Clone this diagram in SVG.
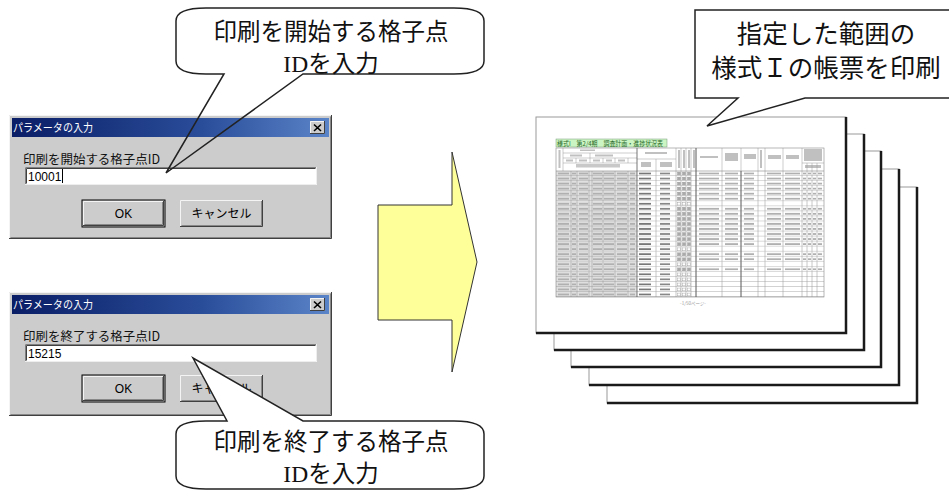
<svg xmlns="http://www.w3.org/2000/svg" width="949" height="490" viewBox="0 0 949 490">
<style>
.jp{font-family:"Noto Sans CJK JP","Noto Sans",sans-serif}
.ser{font-family:"Liberation Serif","Noto Sans CJK JP",serif}
.ui{font-family:"Noto Sans CJK JP","Liberation Sans",sans-serif}
.lat{font-family:"Liberation Sans",Arial,sans-serif}
.call{fill:#fff;stroke:#222;stroke-width:1.5;stroke-linejoin:miter}
.ctext{font-size:23.5px;fill:#111;text-anchor:middle}
.page{fill:#fff;stroke:#9a9a9a;stroke-width:1}
.pedge{fill:none;stroke:#1a1a1a;stroke-width:2.5}
.dlg{fill:#cccccc}
.hi{stroke:#f4f4f4;stroke-width:1;fill:none}
.sh{stroke:#404040;stroke-width:1;fill:none}
.sh2{stroke:#888;stroke-width:1;fill:none}
.gl{stroke:#999;stroke-width:0.5;fill:none}
</style>
<defs>
<linearGradient id="tb" x1="0" y1="0" x2="1" y2="0">
<stop offset="0" stop-color="#0a1e66"/>
<stop offset="0.6" stop-color="#2a4d9a"/>
<stop offset="1" stop-color="#5a84c8"/>
</linearGradient>
<pattern id="rowB" patternUnits="userSpaceOnUse" x="556" y="171" width="268" height="5.04">
<rect width="81" height="5.04" fill="#e0e0e0"/>
<g fill="#b0b0b0">
<rect x="2" y="1.6" width="11" height="1.8"/><rect x="16" y="1.6" width="4" height="1.8"/><rect x="23" y="1.6" width="9" height="1.8"/><rect x="37" y="1.6" width="9" height="1.8"/><rect x="48" y="1.6" width="10" height="1.8"/><rect x="61" y="1.6" width="10" height="1.8"/><rect x="74" y="1.6" width="5" height="1.8"/>
</g>
<rect x="83" y="1.6" width="12" height="1.8" fill="#777"/>
<rect x="104" y="1.6" width="10" height="1.8" fill="#888"/>
<g fill="none" stroke="#999" stroke-width="0.4"><rect x="121.5" y="1" width="3" height="3"/><rect x="126.5" y="1" width="3" height="3"/><rect x="131.5" y="1" width="3" height="3"/></g>
<path class="gl" d="M0 4.8H268M15 0V5.04M21 0V5.04M33 0V5.04M36 0V5.04M47 0V5.04M59 0V5.04M72 0V5.04M100 0V5.04M120 0V5.04M125 0V5.04M130 0V5.04M135 0V5.04M140 0V5.04M166 0V5.04M185 0V5.04M202 0V5.04M209 0V5.04M227 0V5.04M246 0V5.04M251 0V5.04M256 0V5.04M261 0V5.04"/>
</pattern>
<pattern id="rowA" patternUnits="userSpaceOnUse" x="556" y="171" width="268" height="5.04">
<rect width="81" height="5.04" fill="#e0e0e0"/>
<g fill="#b0b0b0">
<rect x="2" y="1.6" width="11" height="1.8"/><rect x="16" y="1.6" width="4" height="1.8"/><rect x="23" y="1.6" width="9" height="1.8"/><rect x="37" y="1.6" width="9" height="1.8"/><rect x="48" y="1.6" width="10" height="1.8"/><rect x="61" y="1.6" width="10" height="1.8"/><rect x="74" y="1.6" width="5" height="1.8"/>
<rect x="143" y="1.6" width="20" height="1.8"/><rect x="169" y="1.6" width="13" height="1.8"/><rect x="188" y="1.6" width="10" height="1.8"/><rect x="211" y="1.6" width="14" height="1.8"/><rect x="229" y="1.6" width="15" height="1.8"/><rect x="247" y="1.6" width="3" height="1.8"/><rect x="252" y="1.6" width="3" height="1.8"/><rect x="257" y="1.6" width="3" height="1.8"/><rect x="262" y="1.6" width="4" height="1.8"/>
</g>
<rect x="83" y="1.6" width="12" height="1.8" fill="#777"/>
<rect x="104" y="1.6" width="10" height="1.8" fill="#888"/>
<g fill="#aaa" stroke="#999" stroke-width="0.4"><rect x="121.5" y="1" width="3" height="3"/><rect x="126.5" y="1" width="3" height="3"/><rect x="131.5" y="1" width="3" height="3"/></g>
<path class="gl" d="M0 4.8H268M15 0V5.04M21 0V5.04M33 0V5.04M36 0V5.04M47 0V5.04M59 0V5.04M72 0V5.04M100 0V5.04M120 0V5.04M125 0V5.04M130 0V5.04M135 0V5.04M140 0V5.04M166 0V5.04M185 0V5.04M202 0V5.04M209 0V5.04M227 0V5.04M246 0V5.04M251 0V5.04M256 0V5.04M261 0V5.04"/>
</pattern>
</defs>
<rect width="949" height="490" fill="#fff"/>

<!-- Page stack -->
<g id="page5"><rect class="page" x="607" y="187" width="310" height="216"/><path class="pedge" d="M917 187V403H607"/></g>
<g id="page4"><rect class="page" x="589" y="169" width="310" height="216"/><path class="pedge" d="M899 169V385H589"/></g>
<g id="page3"><rect class="page" x="571" y="151" width="310" height="216"/><path class="pedge" d="M881 151V367H571"/></g>
<g id="page2"><rect class="page" x="554" y="134" width="310" height="216"/><path class="pedge" d="M864 134V350H554"/></g>
<g id="page1">
<rect class="page" x="536" y="117" width="310" height="216"/><path class="pedge" d="M846 117V333H536"/>
<rect x="556" y="139" width="111" height="8" fill="#ccf5c4" stroke="#7a9a7a" stroke-width="0.5"/>
<text class="jp" x="557" y="145.6" font-size="6.5" fill="#2a6a2a" textLength="106" lengthAdjust="spacingAndGlyphs">様式I　第2/4期　調査計画・進捗状況表</text>
<rect x="556" y="148" width="268" height="23" fill="#fff"/>
<g fill="#c0c0c0">
<rect x="558.5" y="150" width="2" height="18"/><rect x="580" y="149.5" width="15" height="1.5"/><rect x="570" y="154.5" width="12" height="2"/><rect x="595" y="154.5" width="18" height="2"/>
<rect x="566" y="159.5" width="7" height="2"/><rect x="579" y="159.5" width="8" height="2"/><rect x="593" y="159.5" width="7" height="2"/><rect x="606" y="159.5" width="6" height="2"/><rect x="618" y="159.5" width="7" height="2"/>
<rect x="645" y="152" width="22" height="2"/><rect x="641" y="162" width="10" height="5"/><rect x="660" y="162" width="12" height="5"/>
<rect x="678" y="150" width="2" height="18"/><rect x="683" y="150" width="2" height="18"/><rect x="688" y="150" width="2" height="18"/><rect x="693" y="150" width="2" height="18"/>
<rect x="700" y="156" width="18" height="2"/><rect x="725" y="153" width="13" height="8"/><rect x="744" y="154" width="12" height="5"/><rect x="760" y="150" width="2" height="18"/><rect x="768" y="155" width="13" height="4"/><rect x="786" y="155" width="13" height="4"/><rect x="804" y="149" width="18" height="12"/><rect x="805" y="165" width="16" height="3"/>
</g>
<rect x="576" y="164" width="44" height="3.5" fill="#c8c8c8"/>
<path class="gl" d="M563 148V171M563 153H637M563 158H637M563 163H637M590 153V158M576 158V163M590 158V163M603 158V163M615 158V163M628 158V163M637 159H676M656 159V171M676 148V171M681 148V171M686 148V171M691 148V171M696 148V171M722 148V171M741 148V171M758 148V171M765 148V171M783 148V171M802 148V171M802 163H824M807 163V171M812 163V171M817 163V171"/>
<rect x="556" y="171" width="268" height="30.24" fill="url(#rowA)"/>
<rect x="556" y="201.24" width="268" height="5.04" fill="url(#rowB)"/>
<rect x="556" y="206.28" width="268" height="40.32" fill="url(#rowA)"/>
<rect x="556" y="246.6" width="268" height="5.04" fill="url(#rowB)"/>
<rect x="556" y="251.64" width="268" height="10.08" fill="url(#rowA)"/>
<rect x="556" y="261.72" width="268" height="5.04" fill="url(#rowB)"/>
<rect x="556" y="266.76" width="268" height="5.04" fill="url(#rowA)"/>
<rect x="556" y="271.8" width="268" height="25.2" fill="url(#rowB)"/>
<rect x="556" y="148" width="268" height="149" fill="none" stroke="#888" stroke-width="0.6"/>
<path d="M556 171H824" stroke="#888" stroke-width="0.6"/>
<path d="M637 148V297M696 148V297M741 171V297" stroke="#555" stroke-width="0.8"/>
<text class="jp" x="693" y="305" font-size="4.5" fill="#999" text-anchor="middle">-1/50ページ-</text>
</g>

<!-- Big arrow -->
<g id="arrow">
<polygon points="378,205 452,205 452,152 477,262 452,372 452,320 378,320" fill="#ffff99" stroke="#333" stroke-width="1"/>
</g>

<!-- Dialog 1 -->
<g id="dialog1">
<rect class="dlg" x="9" y="115" width="323" height="124"/>
<path class="hi" d="M9.5 238V115.5H331"/>
<path class="sh" d="M9 238.5H331.5V115"/>
<path class="sh2" d="M10.5 237.5H330.5V116.5"/>
<rect x="12" y="118" width="317" height="19" fill="url(#tb)"/>
<text class="ui" x="13" y="132" font-size="11.5" fill="#fff" textLength="80" lengthAdjust="spacingAndGlyphs">パラメータの入力</text>
<rect x="310" y="121" width="15" height="13" fill="#ccc"/>
<path class="hi" d="M310.5 133.5V121.5H324.5"/><path class="sh" d="M310 133.5H324.5V121"/>
<path d="M314 124.5L321 131M321 124.5L314 131" stroke="#000" stroke-width="1.6"/>
<text class="ui" x="23" y="164" font-size="12.5" fill="#111" textLength="137" lengthAdjust="spacingAndGlyphs">印刷を開始する格子点ID</text>
<rect x="25" y="167" width="292" height="18" fill="#fff"/>
<path d="M25.5 184.5V167.5H316.5" stroke="#808080" fill="none"/><path d="M26.5 183.5V168.5H315.5" stroke="#404040" fill="none"/>
<path d="M25 184.5H316.5V167" stroke="#eee" fill="none"/>
<text class="lat" x="28" y="181" font-size="12" fill="#000">10001</text>
<path d="M62.5 169V183" stroke="#000" stroke-width="1"/>
<rect x="82" y="200" width="83" height="27" fill="#ccc" stroke="#000" stroke-width="1"/>
<path class="hi" d="M83.5 225.5V201.5H163.5"/><path class="sh" d="M83 225.5H163.5V201"/><path class="sh2" d="M84.5 224.5H162.5V202"/>
<text class="lat" x="123.5" y="218" font-size="12" fill="#000" text-anchor="middle">OK</text>
<rect x="180" y="200" width="83" height="27" fill="#ccc"/>
<path class="hi" d="M180.5 226V200.5H262"/><path class="sh" d="M180 226.5H262.5V200"/><path class="sh2" d="M181.5 225.5H261.5V201"/>
<text class="ui" x="221.5" y="218" font-size="12" fill="#000" text-anchor="middle">キャンセル</text>
</g>

<!-- Dialog 2 -->
<g id="dialog2" transform="translate(0,177)">
<rect class="dlg" x="9" y="115" width="323" height="124"/>
<path class="hi" d="M9.5 238V115.5H331"/>
<path class="sh" d="M9 238.5H331.5V115"/>
<path class="sh2" d="M10.5 237.5H330.5V116.5"/>
<rect x="12" y="118" width="317" height="19" fill="url(#tb)"/>
<text class="ui" x="13" y="132" font-size="11.5" fill="#fff" textLength="80" lengthAdjust="spacingAndGlyphs">パラメータの入力</text>
<rect x="310" y="121" width="15" height="13" fill="#ccc"/>
<path class="hi" d="M310.5 133.5V121.5H324.5"/><path class="sh" d="M310 133.5H324.5V121"/>
<path d="M314 124.5L321 131M321 124.5L314 131" stroke="#000" stroke-width="1.6"/>
<text class="ui" x="23" y="164" font-size="12.5" fill="#111" textLength="137" lengthAdjust="spacingAndGlyphs">印刷を終了する格子点ID</text>
<rect x="25" y="167" width="292" height="18" fill="#fff"/>
<path d="M25.5 184.5V167.5H316.5" stroke="#808080" fill="none"/><path d="M26.5 183.5V168.5H315.5" stroke="#404040" fill="none"/>
<path d="M25 184.5H316.5V167" stroke="#eee" fill="none"/>
<text class="lat" x="28" y="181" font-size="12" fill="#000">15215</text>
<rect x="82" y="198" width="83" height="27" fill="#ccc" stroke="#000" stroke-width="1"/>
<path class="hi" d="M83.5 223.5V199.5H163.5"/><path class="sh" d="M83 223.5H163.5V199"/><path class="sh2" d="M84.5 222.5H162.5V200"/>
<text class="lat" x="123.5" y="216" font-size="12" fill="#000" text-anchor="middle">OK</text>
<rect x="180" y="198" width="83" height="27" fill="#ccc"/>
<path class="hi" d="M180.5 224V198.5H262"/><path class="sh" d="M180 224.5H262.5V198"/><path class="sh2" d="M181.5 223.5H261.5V199"/>
<text class="ui" x="221.5" y="216" font-size="12" fill="#000" text-anchor="middle">キャンセル</text>
</g>

<!-- Callouts -->
<g id="callout1">
<path d="M206 8H454Q484 8 484 21V61Q484 74 454 74H206Q176 74 176 61V21Q176 8 206 8Z" fill="#fff"/>
<path d="M224 74H206Q176 74 176 61V21Q176 8 206 8H454Q484 8 484 21V61Q484 74 454 74H303L166 173Z" fill="none" stroke="#222" stroke-width="1.5" stroke-linejoin="miter"/>
<text class="jp ctext"><tspan x="331" y="40">印刷を開始する格子点</tspan><tspan x="331" y="71.5"><tspan class="ser">ID</tspan>を入力</tspan></text>
</g>
<g id="callout2">
<path class="call" d="M206 421H227L193 358L303 421H454Q484 421 484 434V476Q484 489 454 489H206Q176 489 176 476V434Q176 421 206 421Z"/>
<text class="jp ctext"><tspan x="331" y="450">印刷を終了する格子点</tspan><tspan x="331" y="481.5"><tspan class="ser">ID</tspan>を入力</tspan></text>
</g>
<g id="callout3">
<path class="call" d="M695 10H962V98H805L707 126L738 98H695Z"/>
<text class="jp ctext" style="font-size:25.5px"><tspan x="826" y="43">指定した範囲の</tspan><tspan x="826" y="77">様式Ｉの帳票を印刷</tspan></text>
</g>
</svg>
